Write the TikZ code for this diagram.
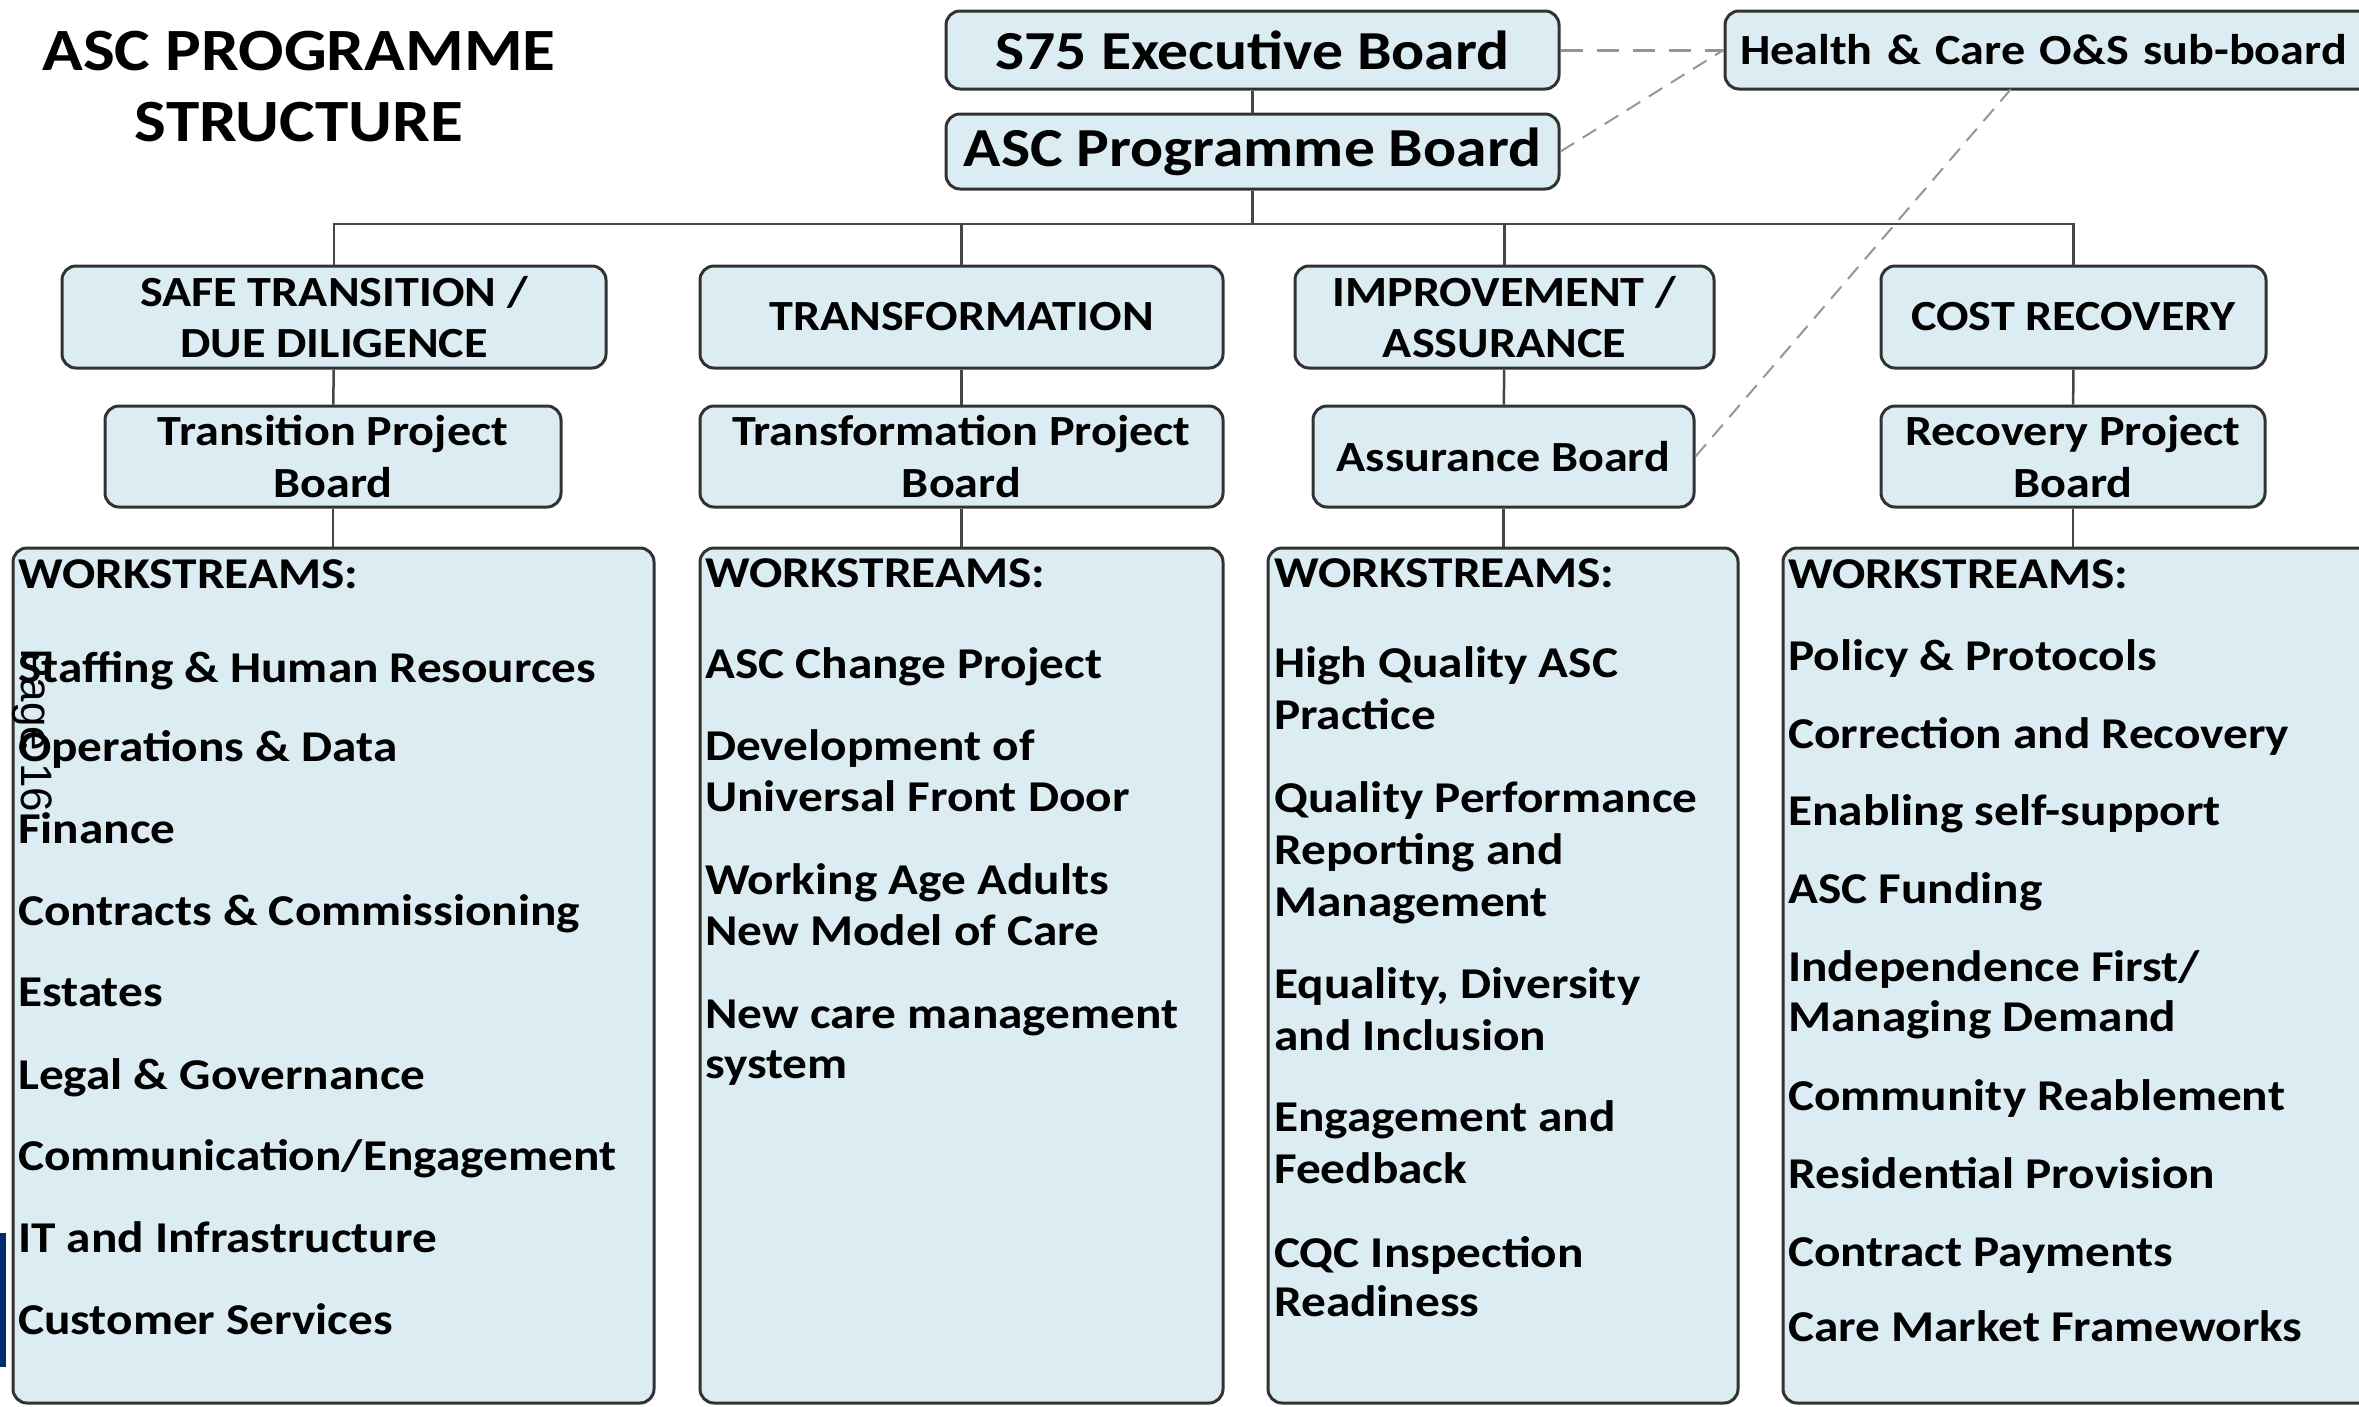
\documentclass[tikz,border=0pt]{standalone}
\usepackage{fontspec}
\setmainfont{Carlito}[FakeStretch=1.12]
\newfontfamily\pagefont{Liberation Sans}

\definecolor{boxfill}{RGB}{219,237,243}
\definecolor{boxline}{RGB}{50,50,50}
\definecolor{linkgray}{RGB}{70,70,70}
\definecolor{dashgray}{RGB}{150,150,150}
\definecolor{navybar}{RGB}{0,45,110}

\tikzset{
  board/.style={draw=boxline, line width=3pt, fill=boxfill, rounded corners=14pt, inner sep=0pt, align=center},
  wsitem/.style={anchor=base west, inner sep=0pt, font=\fontsize{44}{52}\selectfont\bfseries},
  link/.style={draw=linkgray, line width=2.5pt},
  dashlink/.style={draw=dashgray, line width=2pt, dash pattern=on 16pt off 10pt}
}

\begin{document}
\begin{tikzpicture}[x=1pt,y=-1pt]
					\useasboundingbox (0,0) rectangle (2359,1406);
					\clip (0,0) rectangle (2359,1406);
					% programme structure
					\node[anchor=base, inner sep=0pt, font=\fontsize{60}{72}\selectfont\bfseries] (title1) at (299,70) {ASC PROGRAMME};
					\node[anchor=base, inner sep=0pt, font=\fontsize{60}{72}\selectfont\bfseries] (title2) at (299,141) {STRUCTURE};

					\node[board, minimum width=613pt, minimum height=78pt, font=\fontsize{55}{64}\selectfont\bfseries] (s75) at (1252.5,50) {S75 Executive Board};
					\node[board, minimum width=613pt, minimum height=75pt, font=\fontsize{55}{64}\selectfont\bfseries] (asc) at (1252.5,151.5) {ASC Programme Board};
					\node[board, minimum height=78pt, inner xsep=15pt, text width=645pt, align=left, font=\fontsize{43}{52}\selectfont\bfseries] (hc) at (2062.5,50) {Health \& Care O\&S sub-board};
					\coordinate (hcfoot) at (2011,89);

					\node[board, minimum width=544pt, minimum height=102pt, font=\fontsize{43}{51}\selectfont\bfseries] (cat1) at (334,317) {SAFE TRANSITION /\\DUE DILIGENCE};
					\node[board, minimum width=523pt, minimum height=102pt, font=\fontsize{43}{51}\selectfont\bfseries] (cat2) at (961.5,317) {TRANSFORMATION};
					\node[board, minimum width=419pt, minimum height=102pt, font=\fontsize{43}{51}\selectfont\bfseries] (cat3) at (1504.5,317) {IMPROVEMENT /\\ASSURANCE};
					\node[board, minimum width=385pt, minimum height=102pt, font=\fontsize{43}{51}\selectfont\bfseries] (cat4) at (2073.5,317) {COST RECOVERY};

					\node[board, minimum width=456pt, minimum height=101pt, font=\fontsize{43}{52}\selectfont\bfseries] (pb1) at (333,456.5) {Transition Project\\Board};
					\node[board, minimum width=523pt, minimum height=101pt, font=\fontsize{43}{52}\selectfont\bfseries] (pb2) at (961.5,456.5) {Transformation Project\\Board};
					\node[board, minimum width=381pt, minimum height=101pt, font=\fontsize{43}{52}\selectfont\bfseries] (pb3) at (1503.5,456.5) {Assurance Board};
					\node[board, minimum width=384pt, minimum height=101pt, font=\fontsize{43}{52}\selectfont\bfseries] (pb4) at (2073,456.5) {Recovery Project\\Board};

					\node[board, minimum width=641pt, minimum height=855pt] (ws1) at (333.5,975.5) {};
					\node[board, minimum width=523pt, minimum height=855pt] (ws2) at (961.5,975.5) {};
					\node[board, minimum width=470pt, minimum height=855pt] (ws3) at (1503,975.5) {};
					\node[board, minimum width=640pt, minimum height=855pt] (ws4) at (2103,975.5) {};

					% connectors
					\coordinate (bus) at (0,224);
					\draw[link] (s75) -- (asc);
					\draw[link] (asc.south) -- (asc.south |- bus);
					\draw[link] (cat1.north) -- (cat1.north |- bus) -- (cat4.north |- bus) -- (cat4.north);
					\draw[link] (cat2.north) -- (cat2.north |- bus);
					\draw[link] (cat3.north) -- (cat3.north |- bus);
					\draw[link] (cat1) -- (pb1);
					\draw[link] (cat2) -- (pb2);
					\draw[link] (cat3) -- (pb3);
					\draw[link] (cat4) -- (pb4);
					\draw[link] (pb1.south) -- (pb1.south |- ws1.north);
					\draw[link] (pb2.south) -- (pb2.south |- ws2.north);
					\draw[link] (pb3.south) -- (pb3.south |- ws3.north);
					\draw[link] (pb4.south) -- (pb4.south |- ws4.north);

					\draw[dashlink, line width=3pt, dash pattern=on 22pt off 14pt] (s75) -- (hc);
					\draw[dashlink] (asc.east) -- (hc.west);
					\draw[dashlink] (pb3.east) -- (hcfoot);

					% workstreams
					\node[wsitem] (a0) at (18,588) {WORKSTREAMS:};
					\node[wsitem] (a1) at (18,682) {Staffing \& Human Resources};
					\node[wsitem] (a2) at (18,761) {Operations \& Data};
					\node[wsitem] (a3) at (18,843) {Finance};
					\node[wsitem] (a4) at (18,925) {Contracts \& Commissioning};
					\node[wsitem] (a5) at (18,1006) {Estates};
					\node[wsitem] (a6) at (18,1089) {Legal \& Governance};
					\node[wsitem] (a7) at (18,1170) {Communication/Engagement};
					\node[wsitem] (a8) at (18,1252) {IT and Infrastructure};
					\node[wsitem] (a9) at (18,1334) {Customer Services};

					\node[wsitem] (b0) at (705,587) {WORKSTREAMS:};
					\node[wsitem] (b1) at (705,678) {ASC Change Project};
					\node[wsitem] (b2) at (705,760) {Development of};
					\node[wsitem] (b3) at (705,811) {Universal Front Door};
					\node[wsitem] (b4) at (705,894) {Working Age Adults};
					\node[wsitem] (b5) at (705,945) {New Model of Care};
					\node[wsitem] (b6) at (705,1028) {New care management};
					\node[wsitem] (b7) at (705,1078) {system};

					\node[wsitem] (c0) at (1274,587) {WORKSTREAMS:};
					\node[wsitem] (c1) at (1274,677) {High Quality ASC};
					\node[wsitem] (c2) at (1274,729) {Practice};
					\node[wsitem] (c3) at (1274,812) {Quality Performance};
					\node[wsitem] (c4) at (1274,864) {Reporting and};
					\node[wsitem] (c5) at (1274,916) {Management};
					\node[wsitem] (c6) at (1274,998) {Equality, Diversity};
					\node[wsitem] (c7) at (1274,1050) {and Inclusion};
					\node[wsitem] (c8) at (1274,1131) {Engagement and};
					\node[wsitem] (c9) at (1274,1183) {Feedback};
					\node[wsitem] (c10) at (1274,1267) {CQC Inspection};
					\node[wsitem] (c11) at (1274,1316) {Readiness};

					\node[wsitem] (d0) at (1788,588) {WORKSTREAMS:};
					\node[wsitem] (d1) at (1788,670) {Policy \& Protocols};
					\node[wsitem] (d2) at (1788,748) {Correction and Recovery};
					\node[wsitem] (d3) at (1788,825) {Enabling self-support};
					\node[wsitem] (d4) at (1788,903) {ASC Funding};
					\node[wsitem] (d5) at (1788,981) {Independence First/};
					\node[wsitem] (d6) at (1788,1031) {Managing Demand};
					\node[wsitem] (d7) at (1788,1110) {Community Reablement};
					\node[wsitem] (d8) at (1788,1188) {Residential Provision};
					\node[wsitem] (d9) at (1788,1266) {Contract Payments};
					\node[wsitem] (d10) at (1788,1341) {Care Market Frameworks};

					% page mark
					\node[rotate=-90, anchor=base west, inner sep=0pt, font=\pagefont\fontsize{44}{52}\selectfont] (pg) at (21,648) {Page 16};
					\fill[navybar] (0,1233) rectangle (6,1367);
			\end{tikzpicture}
\end{document}
